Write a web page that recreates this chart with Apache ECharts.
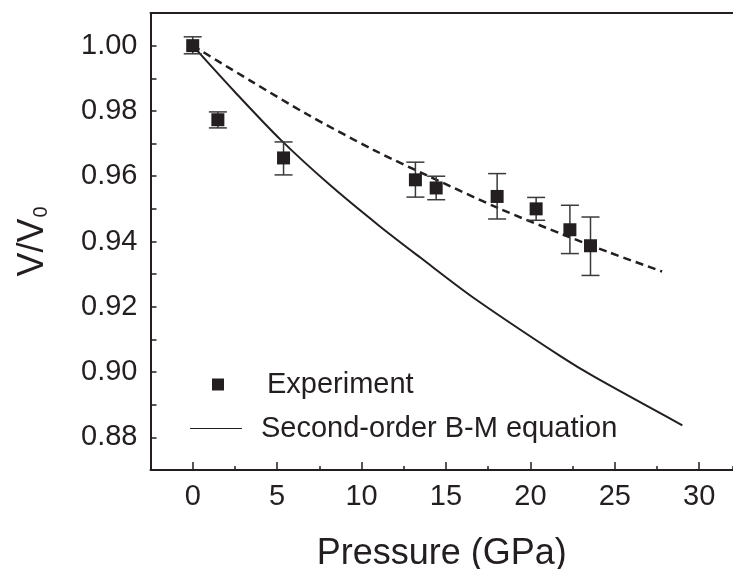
<!DOCTYPE html>
<html>
<head>
<meta charset="utf-8">
<script src="https://cdn.jsdelivr.net/npm/echarts@6/dist/echarts.min.js"></script>
<style>
html,body{margin:0;padding:0;background:#fff;}
#chart{width:733px;height:569px;}
</style>
</head>
<body>
<div id="chart"></div>
<script>
// ---- data ----
var pressure   = [0, 1.49, 5.38, 13.19, 14.42, 18.03, 20.34, 22.34, 23.56];
var volume     = [1.000, 0.9773, 0.9656, 0.9589, 0.9564, 0.9538, 0.9500, 0.9436, 0.9387];
var errUpper   = [1.0027, 0.9797, 0.9705, 0.9643, 0.9600, 0.9608, 0.9535, 0.9511, 0.9475];
var errLower   = [0.9975, 0.9748, 0.9604, 0.9536, 0.9528, 0.9469, 0.9465, 0.9363, 0.9296];

var bmP        = [0, 2.5, 5.2, 8.15, 11.0, 13.5, 16.65, 21.8, 23.8, 29.0];
var bmV        = [1.000, 0.9858, 0.9712, 0.9572, 0.9450, 0.9350, 0.9227, 0.9048, 0.8985, 0.8837];

var fitP       = [0, 3.4, 6.8, 10.7, 13.9, 18.2, 22.0, 24.6, 27.8];
var fitV       = [1.000, 0.9893, 0.9789, 0.9681, 0.9602, 0.9500, 0.9420, 0.9368, 0.9308];

var xTickLabels = [0, 5, 10, 15, 20, 25, 30];
var yTickLabels = ['0.88', '0.90', '0.92', '0.94', '0.96', '0.98', '1.00'];

var seriesNames = ['Experiment', 'Second-order B-M equation'];
var xTitle = 'Pressure (GPa)';

// ---- build ----
var ink = '#231f20';
var font = 'Liberation Sans, Arial, Helvetica, sans-serif';

function zip(a, b) { return a.map(function (v, i) { return [v, b[i]]; }); }
var expData = zip(pressure, volume);
var errData = pressure.map(function (p, i) { return [p, errLower[i], errUpper[i]]; });

var chart = echarts.init(document.getElementById('chart'), null, {renderer: 'canvas'});

var option = {
  backgroundColor: '#fff',
  animation: false,
  grid: {left: 150.5, top: 13, right: 0, bottom: 99, containLabel: false, outerBoundsMode: 'none'},
  legend: [
    {
      data: [{name: seriesNames[0], icon: 'rect'}],
      left: 212, top: 370, padding: 0,
      itemWidth: 12, itemHeight: 12,
      itemStyle: {color: ink, opacity: 1},
      textStyle: {fontFamily: font, fontSize: 29, color: ink, padding: [0, 0, 0, 38]},
      selectedMode: false
    },
    {
      data: [{name: seriesNames[1], icon: 'path://M0 0H52V1.2H0Z'}],
      left: 190, top: 414, padding: 0,
      itemWidth: 52, itemHeight: 12,
      itemStyle: {color: ink},
      textStyle: {fontFamily: font, fontSize: 29, color: ink, padding: [0, 0, 0, 14]},
      selectedMode: false
    }
  ],
  xAxis: [
    {
      type: 'value', min: -2.5, max: 32, interval: 2.5, position: 'bottom',
      name: xTitle, nameLocation: 'middle', nameGap: 66,
      nameTextStyle: {fontFamily: font, fontSize: 36, color: ink},
      splitLine: {show: false},
      axisLine: {show: true, onZero: false, lineStyle: {color: ink, width: 2}},
      axisTick: {show: true, inside: true, length: 4, lineStyle: {color: ink, width: 1.5}},
      axisLabel: {
        fontFamily: font, fontSize: 29, color: ink, margin: 12,
        formatter: function (v) {
          return xTickLabels.indexOf(Math.round(v * 100) / 100) >= 0 ? String(Math.round(v)) : '';
        }
      }
    },
    {
      type: 'value', min: -2.5, max: 32, position: 'bottom',
      splitLine: {show: false},
      axisLine: {show: false, onZero: false},
      axisTick: {show: true, inside: true, length: 8, customValues: xTickLabels, lineStyle: {color: ink, width: 1.5}},
      axisLabel: {show: false}
    },
    {
      type: 'value', min: -2.5, max: 32, position: 'top',
      splitLine: {show: false},
      axisLine: {show: true, onZero: false, lineStyle: {color: ink, width: 2}},
      axisTick: {show: false},
      axisLabel: {show: false}
    }
  ],
  yAxis: [
    {
      type: 'value', min: 0.87, max: 1.01, interval: 0.01,
      name: '{a|V/V}{b|0}', nameLocation: 'middle', nameGap: 99, nameRotate: 90,
      nameTextStyle: {
        fontFamily: font, color: ink,
        rich: {
          a: {fontFamily: font, fontSize: 36, color: ink, lineHeight: 36, verticalAlign: 'top'},
          b: {fontFamily: font, fontSize: 20, color: ink, lineHeight: 20, verticalAlign: 'bottom', padding: [33, 0, 0, 1]}
        }
      },
      splitLine: {show: false},
      axisLine: {show: true, onZero: false, lineStyle: {color: ink, width: 2}},
      axisTick: {show: true, inside: true, length: 6, lineStyle: {color: ink, width: 1.5}},
      axisLabel: {
        fontFamily: font, fontSize: 29, color: ink, margin: 13,
        formatter: function (v) {
          var s = v.toFixed(2);
          return yTickLabels.indexOf(s) >= 0 ? s : '';
        }
      }
    }
  ],
  series: [
    {
      name: 'fit', type: 'line', data: zip(fitP, fitV), xAxisIndex: 0,
      smooth: 0.3, showSymbol: false, symbol: 'none',
      lineStyle: {color: ink, width: 2.5, type: [8, 5]}, z: 2, silent: true
    },
    {
      name: seriesNames[1], type: 'line', data: zip(bmP, bmV), xAxisIndex: 0,
      smooth: 0.3, showSymbol: false, symbol: 'none',
      itemStyle: {color: ink},
      lineStyle: {color: ink, width: 2}, z: 2, silent: true
    },
    {
      name: 'err', type: 'custom', xAxisIndex: 0, data: errData, z: 3, silent: true,
      renderItem: function (params, api) {
        var x = api.value(0);
        var lo = api.coord([x, api.value(1)]);
        var hi = api.coord([x, api.value(2)]);
        var hw = 9;
        var st = {stroke: '#3a3a3a', lineWidth: 1.5};
        return {
          type: 'group',
          children: [
            {type: 'line', shape: {x1: lo[0], y1: lo[1], x2: hi[0], y2: hi[1]}, style: st},
            {type: 'line', shape: {x1: lo[0] - hw, y1: lo[1], x2: lo[0] + hw, y2: lo[1]}, style: st},
            {type: 'line', shape: {x1: hi[0] - hw, y1: hi[1], x2: hi[0] + hw, y2: hi[1]}, style: st}
          ]
        };
      }
    },
    {
      name: seriesNames[0], type: 'scatter', data: expData, xAxisIndex: 0,
      symbol: 'rect', symbolSize: 13,
      itemStyle: {color: ink, opacity: 1}, z: 4, silent: true
    }
  ]
};
chart.setOption(option);
</script>
</body>
</html>
